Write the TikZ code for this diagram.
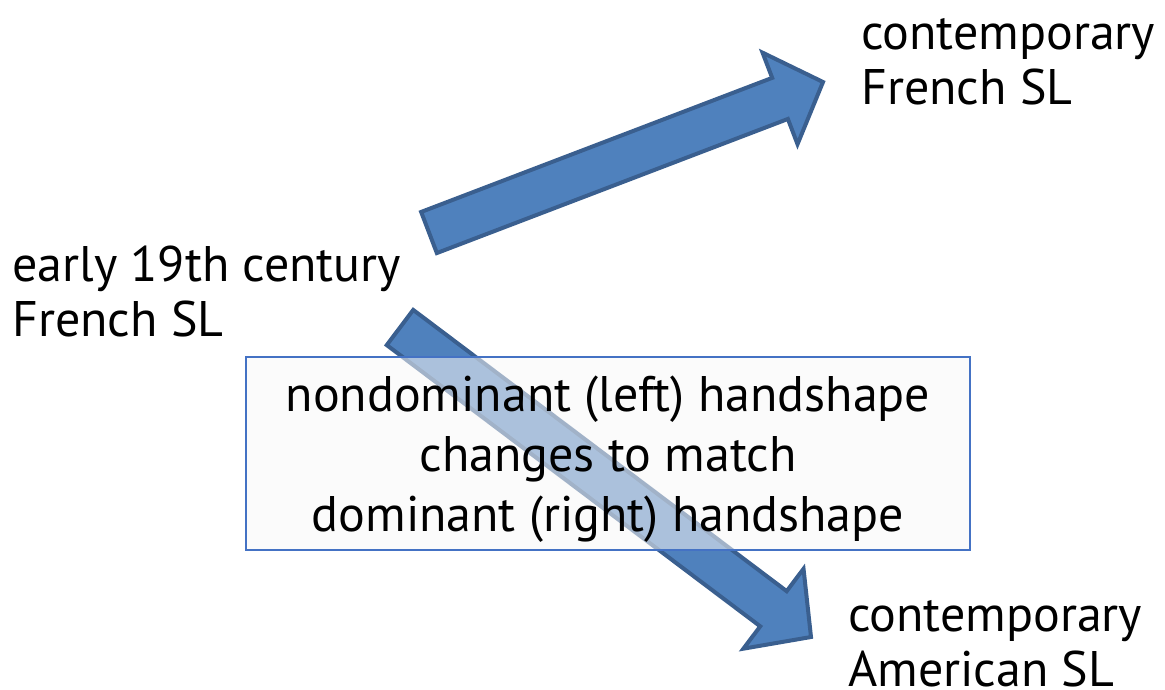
\documentclass[tikz,border=0pt]{standalone}
\usepackage{fontspec}
\setmainfont{PT Sans}
\usetikzlibrary{calc}
\definecolor{arrowfill}{HTML}{4F81BD}
\definecolor{arrowline}{HTML}{3A5F8F}
\definecolor{boxline}{HTML}{4472C4}
\tikzset{
  lbl/.style={inner sep=0pt, align=left, font=\fontsize{50}{55}\selectfont},
  blk/.style={fill=arrowfill, draw=arrowline, line width=4pt, line join=miter},
  notebox/.style={draw=boxline, line width=1.5pt, fill=black!3, fill opacity=0.55,
    minimum width=724pt, minimum height=193pt, inner sep=0pt},
  notetext/.style={align=center, inner sep=0pt, font=\fontsize{50}{60}\selectfont}
}
\newcommand\blockarrow[5]{% tail, tip, headlen, shaft half, head half
  \coordinate (nk) at ($(#2)!#3!(#1)$);
  \draw[blk] ($(#1)!#4!90:(#2)$) -- ($(nk)!#4!-90:(#1)$) -- ($(nk)!#5!-90:(#1)$) -- (#2)
    -- ($(nk)!#5!90:(#1)$) -- ($(nk)!#4!90:(#1)$) -- ($(#1)!#4!-90:(#2)$) -- cycle;
}
\begin{document}
\begin{tikzpicture}[x=1pt,y=-1pt]
\useasboundingbox (0,0) rectangle (1165,689);
\node[lbl, anchor=base west] (src) at (12,336) {early 19th century\\French SL};
\node[lbl, anchor=base west] (fr) at (861,104) {contemporary\\French SL};
\node[lbl, anchor=base west] (am) at (848,686) {contemporary\\American SL};
\coordinate (t1) at (429,232.5);
\coordinate (p1) at (823,82);
\blockarrow{t1}{p1}{46pt}{22pt}{49pt}
\coordinate (t2) at (400,327.5);
\coordinate (p2) at (811,637);
\blockarrow{t2}{p2}{47pt}{22pt}{50pt}
\node[notebox] (note) at (608,453.5) {};
\node[notetext, yshift=-6pt] (notetxt) at (note.center) {nondominant (left) handshape\\changes to match\\dominant (right) handshape};
\end{tikzpicture}
\end{document}
